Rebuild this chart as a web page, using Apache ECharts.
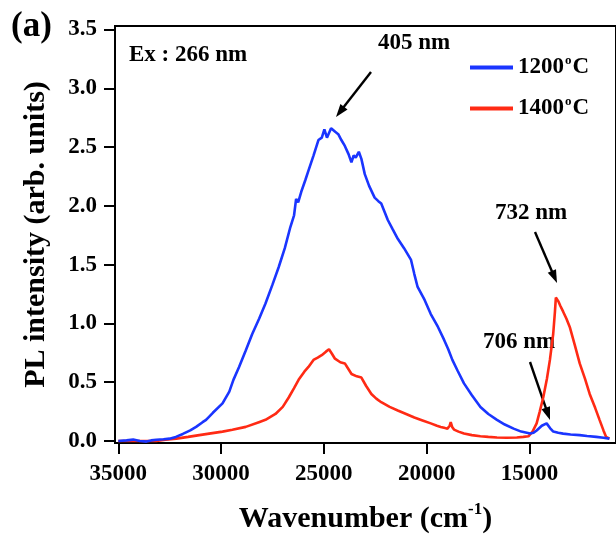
<!DOCTYPE html>
<html>
<head>
<meta charset="utf-8">
<script src="https://cdn.jsdelivr.net/npm/echarts@6/dist/echarts.min.js"></script>
<style>
html,body{margin:0;padding:0;background:#fff;}
#chart{width:616px;height:541px;}
</style>
</head>
<body>
<div id="chart"></div>
<script>
// ---- data ----
const xTicks = [15000, 20000, 25000, 30000, 35000];
const yTicks = [0, 0.5, 1.0, 1.5, 2.0, 2.5, 3.0, 3.5];

const seriesNames = ['1200°C', '1400°C'];

const blueX = [35000,34920,34600,34275,33950,33630,33400,33150,32800,32505,32200,31860,31500,31215,30900,30730,30400,29930,29600,29400,29125,28800,28485,28150,27840,27500,27195,26900,26630,26450,26350,26250,26100,25900,25750,25500,25265,25100,24975,24850,24780,24650,24590,24450,24300,24150,23980,23800,23660,23550,23450,23300,23250,23175,23010,22800,22530,22350,22210,22050,21890,21650,21405,21100,20760,20600,20440,20100,19800,19450,19150,18950,18750,18500,18185,17800,17385,17000,16580,16200,15770,15400,14970,14800,14650,14400,14165,14000,13840,13600,13360,13000,12555,12200,11750,11400,11110];
const blueY = [0.0,0.0,0.005,0.012,0.0,-0.005,0.005,0.01,0.015,0.02,0.035,0.06,0.09,0.12,0.16,0.18,0.24,0.32,0.42,0.52,0.63,0.77,0.91,1.04,1.17,1.33,1.48,1.64,1.82,1.92,2.06,2.03,2.12,2.22,2.30,2.43,2.56,2.58,2.65,2.58,2.57,2.66,2.66,2.63,2.61,2.56,2.51,2.44,2.37,2.43,2.41,2.46,2.46,2.40,2.27,2.17,2.07,2.04,2.02,1.95,1.88,1.80,1.72,1.64,1.54,1.42,1.31,1.20,1.08,0.97,0.86,0.78,0.69,0.60,0.49,0.39,0.29,0.23,0.18,0.14,0.105,0.08,0.063,0.07,0.09,0.13,0.15,0.11,0.08,0.07,0.063,0.055,0.05,0.042,0.035,0.028,0.02];

const redX = [35000,34500,34000,33500,33150,32700,32180,31600,31060,30500,29930,29450,28800,28160,27840,27355,27000,26710,26450,26230,25950,25750,25505,25300,25105,24900,24750,24600,24460,24200,23980,23800,23655,23400,23175,22950,22690,22450,22210,21800,21405,21000,20600,20200,19800,19500,19315,19100,18990,18880,18830,18760,18670,18450,18185,17800,17385,17000,16580,16100,15615,15300,15050,14850,14650,14500,14330,14150,14005,13845,13760,13715,13650,13600,13500,13360,13200,13040,12800,12555,12300,12070,11800,11590,11400,11270,11110];
const redY = [0.0,0.0,0.0,0.0,0.0,0.01,0.02,0.035,0.05,0.065,0.08,0.095,0.12,0.16,0.18,0.23,0.29,0.37,0.45,0.52,0.59,0.63,0.69,0.71,0.73,0.76,0.78,0.74,0.70,0.67,0.66,0.61,0.57,0.55,0.54,0.47,0.40,0.36,0.33,0.29,0.26,0.23,0.20,0.175,0.15,0.13,0.12,0.11,0.105,0.13,0.16,0.12,0.097,0.08,0.063,0.05,0.04,0.035,0.03,0.028,0.03,0.035,0.04,0.08,0.15,0.25,0.37,0.53,0.69,0.91,1.10,1.22,1.21,1.19,1.15,1.10,1.04,0.97,0.82,0.66,0.53,0.40,0.28,0.18,0.09,0.035,0.02];

// ---- chart ----
const FONT = '"Liberation Serif", "Times New Roman", serif';
const pairs = (xs, ys) => xs.map((x, i) => [x, ys[i]]);

function arrow(x1, y1, x2, y2) {
  const dx = x2 - x1, dy = y2 - y1, L = Math.hypot(dx, dy);
  const ux = dx / L, uy = dy / L, hl = 13, hw = 4.5;
  const bx = x2 - ux * hl, by = y2 - uy * hl, px = -uy, py = ux;
  return [
    {type: 'line', shape: {x1: x1, y1: y1, x2: bx + ux * 2, y2: by + uy * 2}, style: {stroke: '#000', lineWidth: 2.4}},
    {type: 'polygon', shape: {points: [[x2, y2], [bx + px * hw, by + py * hw], [bx - px * hw, by - py * hw]]}, style: {fill: '#000'}}
  ];
}
function label(text, x, y, size) {
  return {type: 'text', style: {text: text, x: x, y: y, font: 'bold ' + (size || 23) + 'px ' + FONT, fill: '#000', verticalAlign: 'middle', align: 'left'}};
}

const chart = echarts.init(document.getElementById('chart'), null, {renderer: 'canvas'});
const axisFont = {fontFamily: FONT, fontWeight: 'bold', fontSize: 23, color: '#000'};

chart.setOption({
  animation: false,
  backgroundColor: '#fff',
  grid: {left: 115, right: -4, top: 26, bottom: 98, show: true, borderColor: '#000', borderWidth: 2, containLabel: false},
  legend: {
    data: seriesNames,
    orient: 'vertical',
    left: 470, top: 54, padding: 0,
    itemWidth: 43, itemHeight: 4, itemGap: 15,
    icon: 'rect',
    formatter: n => n.replace('°', '{sup|o}'),
    textStyle: {fontFamily: FONT, fontWeight: 'bold', fontSize: 23, color: '#000', lineHeight: 25,
      rich: {sup: {fontFamily: FONT, fontWeight: 'bold', fontSize: 13, color: '#000', padding: [0, 1, 14, 1]}}}
  },
  xAxis: {
    type: 'value', inverse: true, min: 10790, max: 35160,
    name: 'Wavenumber (cm{sup|-1})', nameLocation: 'middle', nameGap: 58,
    nameTextStyle: {fontFamily: FONT, fontWeight: 'bold', fontSize: 30, color: '#000',
      rich: {sup: {fontFamily: FONT, fontWeight: 'bold', fontSize: 17, color: '#000', padding: [0, 0, 20, 0]}}},
    axisLine: {onZero: false, lineStyle: {color: '#000', width: 2}},
    axisTick: {customValues: xTicks, length: 11, lineStyle: {color: '#000', width: 2}},
    axisLabel: Object.assign({customValues: xTicks, margin: 20, formatter: v => String(v)}, axisFont),
    splitLine: {show: false}
  },
  yAxis: {
    type: 'value', min: -0.017, max: 3.53,
    name: 'PL intensity (arb. units)', nameLocation: 'middle', nameGap: 64, nameRotate: 90,
    nameTextStyle: {fontFamily: FONT, fontWeight: 'bold', fontSize: 30, color: '#000'},
    axisLine: {onZero: false, lineStyle: {color: '#000', width: 2}},
    axisTick: {customValues: yTicks, length: 11, lineStyle: {color: '#000', width: 2}},
    axisLabel: Object.assign({customValues: yTicks, margin: 18, formatter: v => v.toFixed(1)}, axisFont),
    splitLine: {show: false}
  },
  series: [
    {name: seriesNames[1], type: 'line', data: pairs(redX, redY), symbol: 'none', showSymbol: false,
      lineStyle: {color: '#ff2a14', width: 2.6}, itemStyle: {color: '#ff2a14'}, z: 2},
    {name: seriesNames[0], type: 'line', data: pairs(blueX, blueY), symbol: 'none', showSymbol: false,
      lineStyle: {color: '#1a35ff', width: 2.6}, itemStyle: {color: '#1a35ff'}, z: 3}
  ],
  graphic: [
    label('(a)', 11, 27, 35),
    label('Ex : 266 nm', 129, 55),
    label('405 nm', 378, 43),
    label('732 nm', 495, 213),
    label('706 nm', 483, 342)
  ].concat(arrow(371, 72, 336, 117), arrow(535, 232, 557, 283), arrow(530, 362, 550, 420))
});
</script>
</body>
</html>
